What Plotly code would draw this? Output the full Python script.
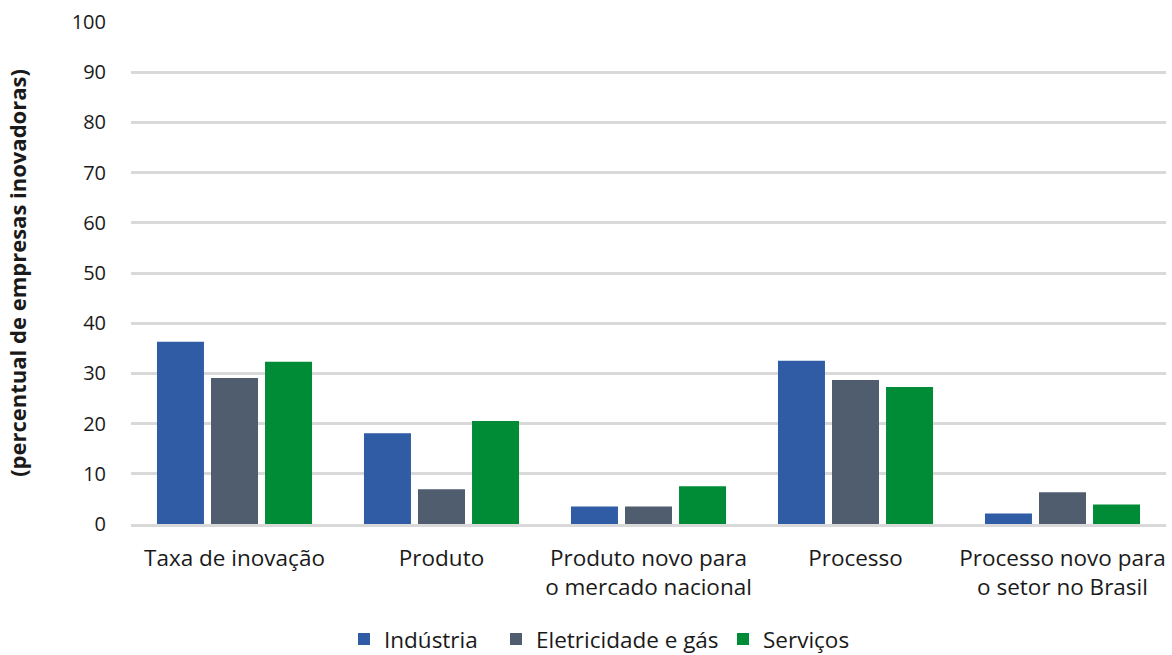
import plotly.graph_objects as go

categorias = [
    "Taxa de inovação",
    "Produto",
    "Produto novo para<br>o mercado nacional",
    "Processo",
    "Processo novo para<br>o setor no Brasil",
]
industria = [36.3, 18.1, 3.5, 32.5, 2.1]
eletricidade_gas = [29.1, 6.9, 3.5, 28.7, 6.3]
servicos = [32.3, 20.5, 7.5, 27.3, 3.9]

series = [
    ("Indústria", industria, "#2f5ca5", "legend", 0.2935),
    ("Eletricidade e gás", eletricidade_gas, "#505d6e", "legend2", 0.4232),
    ("Serviços", servicos, "#008b37", "legend3", 0.6169),
]

fonte = "Open Sans, Noto Sans, sans-serif"

fig = go.Figure()
legendas = {}
for nome, valores, cor, leg, xpos in series:
    fig.add_trace(go.Bar(x=categorias, y=valores, name=nome, marker_color=cor,
                         marker_line_width=0, legend=leg, showlegend=True))
    legendas[leg] = dict(orientation="h", xref="container", x=xpos, xanchor="left",
                         yref="container", y=0.024, yanchor="middle",
                         font=dict(size=22.5), itemwidth=30)

fig.update_layout(
    width=1172, height=655,
    showlegend=True,
    margin=dict(l=131, r=6, t=22, b=131),
    barmode="group", bargap=0.217, bargroupgap=0.13,
    plot_bgcolor="white", paper_bgcolor="white",
    font=dict(family=fonte, size=20, color="#1a1a1a"),
    yaxis=dict(range=[0, 100], dtick=10, showgrid=True, gridcolor="#d9d9d9",
               gridwidth=2.5, zeroline=False, showline=False,
               ticklabelstandoff=24, tickfont=dict(size=20),
               title=dict(text="<b>(percentual de empresas inovadoras)</b>",
                          font=dict(size=22), standoff=38)),
    xaxis=dict(showline=True, linecolor="#d9d9d9", linewidth=2.5,
               ticklabelstandoff=12, tickfont=dict(size=22.5)),
    **legendas,
)

fig.write_html("out.html")
